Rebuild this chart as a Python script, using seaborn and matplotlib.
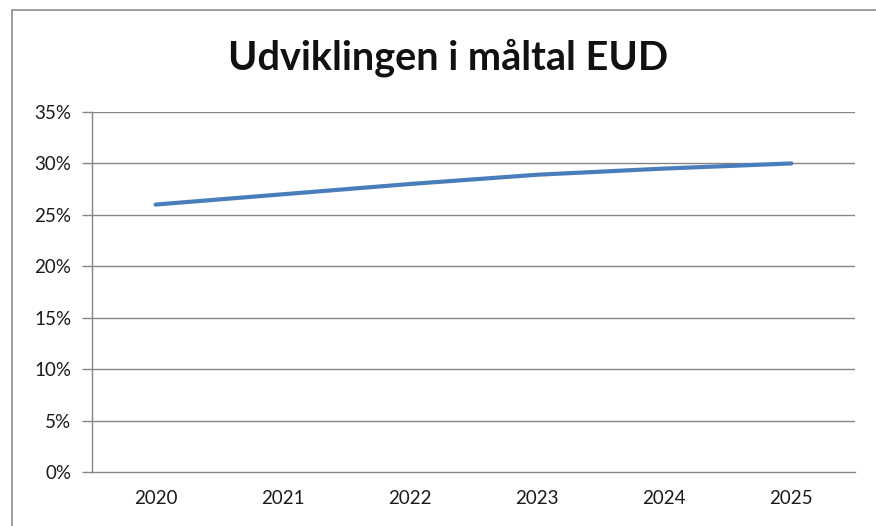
import pandas as pd
import matplotlib.pyplot as plt
import seaborn as sns
from matplotlib.patches import Rectangle
from matplotlib.ticker import FuncFormatter, FixedLocator

# Data
years = ["2020", "2021", "2022", "2023", "2024", "2025"]
values = [26.0, 27.0, 28.0, 28.9, 29.5, 30.0]
y_ticks = [0, 5, 10, 15, 20, 25, 30, 35]

df = pd.DataFrame({"year": years, "value": values})

sns.set_style("white")
plt.rcParams["font.family"] = ["Lato", "DejaVu Sans"]

fig = plt.figure(figsize=(8.76, 5.26), dpi=100)
ax = fig.add_axes([92 / 876, 1 - 472 / 526, (855 - 92) / 876, (472 - 112) / 526])

sns.lineplot(data=df, x="year", y="value", ax=ax, color="#4A7EBB",
             linewidth=3.0, sort=False)

grid_col = "#868686"
ax.set_ylim(0, 35)
ax.set_xlim(-0.5, len(years) - 0.5)
ax.set_yticks(y_ticks)
ax.yaxis.set_major_formatter(FuncFormatter(lambda v, p: f"{int(v)}%"))
for t in y_ticks[1:]:
    ax.axhline(t, color=grid_col, linewidth=1.0, zorder=0)

ax.set_xticks(range(len(years)))
ax.set_xticklabels(years)
ax.xaxis.set_minor_locator(FixedLocator([i - 0.5 for i in range(len(years) + 1)]))
ax.tick_params(axis="x", which="major", length=0, pad=13, labelsize=13.5, colors="#1a1a1a")
ax.tick_params(axis="x", which="minor", length=6, width=1.0, color=grid_col, direction="out")
ax.tick_params(axis="y", which="major", length=7, width=1.0, color=grid_col, direction="out",
               pad=8, labelsize=13.5, labelcolor="#1a1a1a", left=True)

for s in ["top", "right"]:
    ax.spines[s].set_visible(False)
for s in ["left", "bottom"]:
    ax.spines[s].set_color(grid_col)
    ax.spines[s].set_linewidth(1.0)

ax.set_xlabel("")
ax.set_ylabel("")

fig.text(448 / 876, 1 - 58 / 526, "Udviklingen i måltal EUD", ha="center", va="center",
         fontsize=28.5, fontweight="bold", color="#111111")

# outer chart border (cut off at right and bottom)
fig.patches.append(Rectangle((12 / 876, -0.1), 1.2, 1.1 - 10 / 526, transform=fig.transFigure,
                             fill=False, edgecolor="#8c8c8c", linewidth=1.2))

fig.savefig("out.png", dpi=100)
